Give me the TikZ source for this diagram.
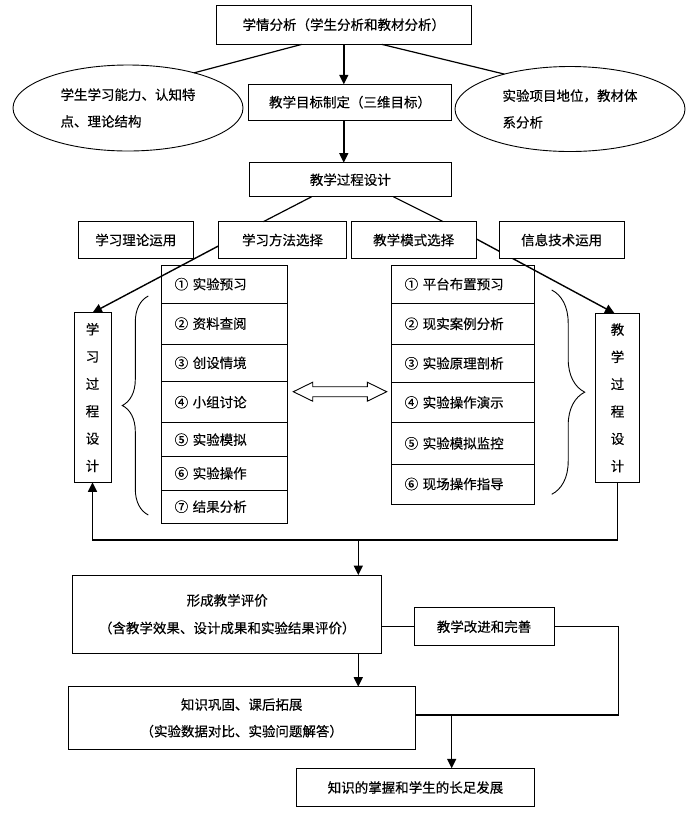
\documentclass[tikz,border=0pt]{standalone}
\usepackage{fontspec}
\setmainfont{Noto Sans CJK SC}[FakeBold=0.3]
\usetikzlibrary{arrows.meta,decorations.pathreplacing,shapes.geometric,calc}
\pgfdeclarelayer{bg}
\pgfsetlayers{bg,main}
\begin{document}
\begin{tikzpicture}[x=1pt,y=-1pt,
  font=\fontsize{13.5}{27}\selectfont,
  box/.style={draw,line width=0.9pt,fill=white,inner sep=0pt,outer sep=0pt,align=center},
  obox/.style={draw,line width=0.9pt,inner sep=0pt,outer sep=0pt,align=center},
  lrow/.style={obox,minimum width=126pt,text width=100pt,inner xsep=13pt,align=left},
  rrow/.style={obox,minimum width=142.6pt,text width=116.6pt,inner xsep=13pt,align=left},
  ell/.style={draw,ellipse,line width=0.9pt,fill=white,inner sep=0pt,outer sep=0pt,align=left,font=\fontsize{13.5}{26.7}\selectfont},
  conn/.style={line width=1.2pt},
  arr/.style={line width=1.4pt,-{Triangle[length=9.5pt,width=9pt]}},
  brc/.style={line width=0.9pt,decorate},
]
\useasboundingbox (0,0) rectangle (700,815);

% top part
\node[box,minimum width=255.7pt,minimum height=39.3pt] (top) at (343.8,24.7) {学情分析（学生分析和教材分析）};
\node[box,minimum width=203.4pt,minimum height=35.7pt] (goal) at (350,102.2) {教学目标制定（三维目标）};
\node[ell,minimum width=230pt,minimum height=86pt] (le) at (128,108) {学生学习能力、认知特\\点、理论结构};
\node[ell,minimum width=230pt,minimum height=85pt] (re) at (570,109) {实验项目地位，教材体\\系分析};
\node[box,minimum width=202.7pt,minimum height=34pt] (proc) at (350.3,179.7) {教学过程设计};

\draw[conn] ([xshift=-42pt]top.south) -- (le.28);
\draw[conn] ([xshift=38pt]top.south) -- (re.152);
\draw[arr] (top.south) -- (top.south |- goal.north);
\draw[arr] (goal.south -| top.south) -- (top.south |- proc.north);

% row of boxes
\node[box,minimum width=115pt,minimum height=36.6pt] (lt) at (135.8,240) {学习理论运用};
\node[box,minimum width=128.3pt,minimum height=36.6pt] (lm) at (282.5,240) {学习方法选择};
\node[box,minimum width=125.5pt,minimum height=36.6pt] (mm) at (413.7,240) {教学模式选择};
\node[box,minimum width=124.5pt,minimum height=36.6pt] (it) at (561.7,240) {信息技术运用};

\draw[conn] ([xshift=-38.6pt]proc.south) -- ([xshift=-19.2pt]lm.north);
\draw[conn] ([xshift=43pt]proc.south) -- ([xshift=29.6pt]mm.north);

% left list
\node[lrow,minimum height=38.3pt] (l1) at (224.7,284.15) {① 实验预习};
\node[lrow,minimum height=40.7pt] (l2) at (224.7,323.65) {② 资料查阅};
\node[lrow,minimum height=37.7pt] (l3) at (224.7,362.85) {③ 创设情境};
\node[lrow,minimum height=41pt] (l4) at (224.7,402.2) {④ 小组讨论};
\node[lrow,minimum height=34pt] (l5) at (224.7,439.7) {⑤ 实验模拟};
\node[lrow,minimum height=33.3pt] (l6) at (224.7,473.35) {⑥ 实验操作};
\node[lrow,minimum height=33.3pt] (l7) at (224.7,506.65) {⑦ 结果分析};

% right list
\node[rrow,minimum height=38.3pt] (r1) at (463,284.15) {① 平台布置预习};
\node[rrow,minimum height=41pt] (r2) at (463,323.8) {② 现实案例分析};
\node[rrow,minimum height=38pt] (r3) at (463,363.3) {③ 实验原理剖析};
\node[rrow,minimum height=40.4pt] (r4) at (463,402.5) {④ 实验操作演示};
\node[rrow,minimum height=41.3pt] (r5) at (463,443.35) {⑤ 实验模拟监控};
\node[rrow,minimum height=40pt] (r6) at (463,484) {⑥ 现场操作指导};

% vertical boxes
\node[obox,minimum width=37pt,minimum height=169.6pt,font=\fontsize{13.5}{27.3}\selectfont] (lv) at (92.5,397.5) {学\\习\\过\\程\\设\\计};
\node[obox,minimum width=43.6pt,minimum height=169pt,font=\fontsize{13.5}{27.3}\selectfont] (rv) at (617.5,397.8) {教\\学\\过\\程\\设\\计};

\begin{pgfonlayer}{bg}
\draw[arr] ([yshift=-6pt]lm.west) -- (lv.north);
\draw[arr] ([yshift=1pt]mm.east) -- ([xshift=-3pt]rv.north);
\end{pgfonlayer}

% braces
\draw[brc,decoration={brace,amplitude=26pt}] (148.3,515) -- (148.3,296);
\draw[brc,decoration={brace,amplitude=33pt}] (551.7,290) -- (551.7,494.3);

% double arrow between lists
\draw[line width=0.9pt,fill=white] (293.3,391.7) -- (312.7,382.2) -- (312.7,386.7) -- (367.3,386.7) -- (367.3,382.2) -- (386.7,391.7) -- (367.3,401.2) -- (367.3,396.7) -- (312.7,396.7) -- (312.7,401.2) -- cycle;

% lower part
\coordinate (fb) at (358.3,540);
\node[box,minimum width=309pt,minimum height=78.3pt,font=\fontsize{13.5}{27.7}\selectfont] (ev) at (227.2,614.2) {形成教学评价\\（含教学效果、设计成果和实验结果评价）};
\node[box,minimum width=140pt,minimum height=38pt] (im) at (484,626.7) {教学改进和完善};
\node[box,minimum width=346.7pt,minimum height=62.6pt,font=\fontsize{13.5}{26.7}\selectfont] (kn) at (241.7,718) {知识巩固、课后拓展\\（实验数据对比、实验问题解答）};
\node[box,minimum width=237.6pt,minimum height=38.4pt] (fi) at (415.5,787.5) {知识的掌握和学生的长足发展};

\draw[arr] (rv.south) |- (fb) -| (lv.south);
\draw[arr] (fb) -- (fb |- ev.north);
\draw[conn] (ev.east |- im.west) -- (im.west);
\draw[arr] (ev.south -| fb) -- (kn.north -| fb);
\coordinate (fr) at (618.3,715);
\coordinate (fd) at (451.7,715);
\draw[conn] (im.east) -| (fr) -- (fr -| kn.east);
\draw[arr] (fd) -- (fd |- fi.north);
\end{tikzpicture}
\end{document}
